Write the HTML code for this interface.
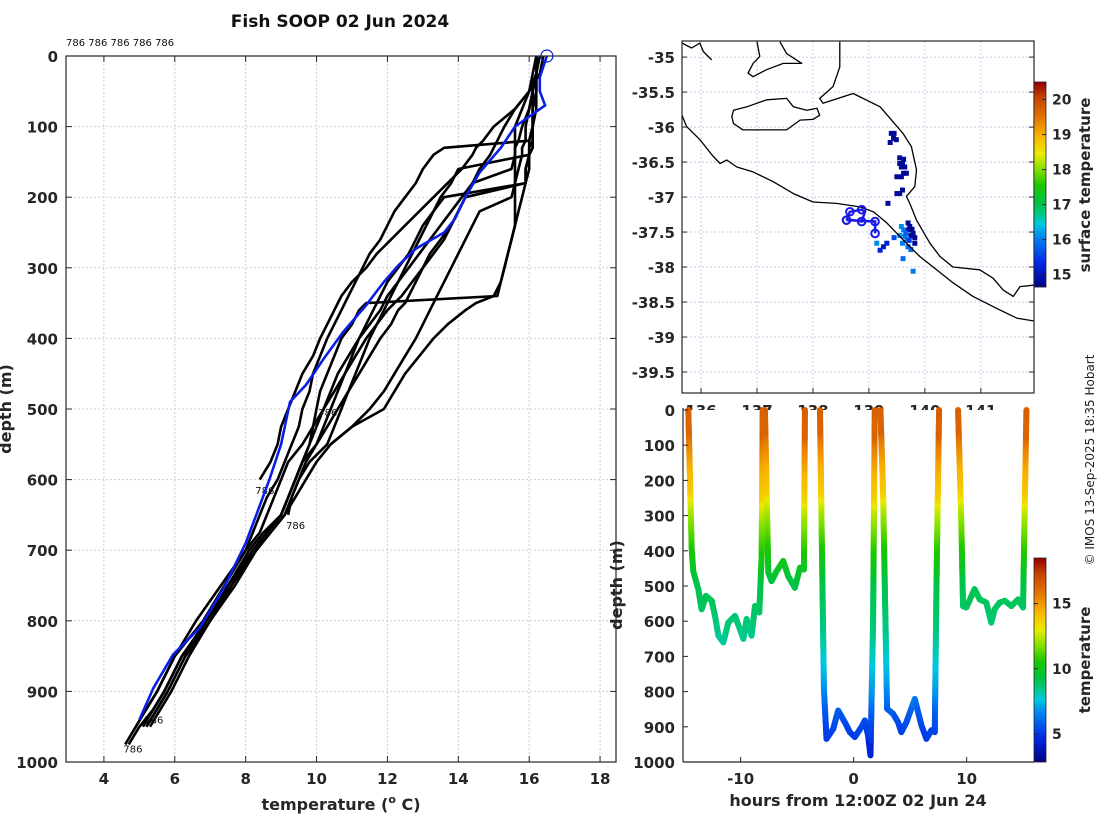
<!DOCTYPE html>
<html><head><meta charset="utf-8">
<style>
html,body{margin:0;padding:0;background:#fff;}
svg{display:block;font-family:"DejaVu Sans","Liberation Sans",sans-serif;}
.tk{font-size:15px;font-weight:bold;fill:#262626;}
.lab{font-size:16px;font-weight:bold;fill:#262626;}
</style></head>
<body>
<svg id="fig" width="1100" height="820" viewBox="0 0 1100 820" xmlns="http://www.w3.org/2000/svg">
<text x="340" y="27" text-anchor="middle" style="font-size:17px;font-weight:bold;fill:#111">Fish SOOP 02 Jun 2024</text>
<text x="66" y="46" style="font-size:10px;fill:#111">786 786 786 786 786</text>
<g id="left"></g>
<g id="map"></g>
<g id="track"></g>
<text transform="translate(1094,460) rotate(-90)" text-anchor="middle" style="font-size:12px;fill:#222">© IMOS 13-Sep-2025 18:35 Hobart</text>
</svg>
<script>
// ---------- LEFT PANEL DATA ----------
const DEPTHS=[0,25,50,75,100,120,130,140,160,180,200,220,240,260,280,300,320,340,350,360,380,400,425,450,475,500,525,550,575,600,625,650,675,700,750,800,850,900,925,950,975];
const P1=[16.2,16.2,16.1,16.1,16.1,16.0,13.6,13.3,13.0,12.8,12.5,12.2,12.0,11.8,11.5,11.3,11.1,10.9,10.8,10.7,10.5,10.3,10.1,9.9,9.8,9.6,9.5,9.3,9.1,8.9,8.6,8.4,8.2,8.0,7.4,6.8,6.0,5.5,5.2,4.9,4.6];
const P2=[16.2,16.1,16.0,15.8,15.6,15.6,15.6,15.6,15.6,15.6,15.6,15.6,15.6,15.5,15.4,15.3,15.2,15.1,11.4,11.2,11.0,10.7,10.5,10.3,10.1,10.0,9.9,9.8,9.6,9.4,9.2,9.0,8.5,8.1,7.5,6.9,6.2,5.7,5.4,5.1,null];
const P3=[16.2,16.2,16.2,16.2,16.1,16.1,16.1,16.0,14.0,13.8,13.5,13.3,13.1,12.9,12.7,12.5,12.3,12.1,12.0,11.9,11.7,11.5,11.3,11.1,10.9,10.7,10.5,10.3,9.8,9.5,9.3,9.2,null,null,null,null,null,null,null,null,null];
const P4=[16.3,16.2,16.2,16.1,16.1,16.1,16.1,16.0,16.0,15.9,13.6,13.3,13.0,12.8,12.6,12.3,12.0,11.8,11.7,11.6,11.4,11.2,11.0,10.8,10.6,10.4,10.2,10.0,9.6,9.4,9.2,9.0,8.6,8.2,7.6,6.9,6.3,5.8,5.5,5.2,null];
const P5=[16.2,16.2,16.1,16.0,15.9,15.9,15.8,15.8,15.7,15.6,15.5,14.6,14.4,14.2,14.0,13.8,13.6,13.4,13.3,13.2,13.0,12.8,12.5,12.2,11.9,11.5,11.0,10.4,10.0,9.7,9.4,9.1,8.7,8.3,7.7,7.0,6.4,5.9,5.6,5.3,null];
const P6=[16.2,16.2,16.0,15.6,15.0,14.7,14.5,14.4,14.1,13.7,13.3,12.9,12.5,12.1,11.7,11.4,11.0,10.7,10.6,10.5,10.3,10.1,9.9,9.6,9.4,9.2,9.0,8.9,8.7,8.4,null,null,null,null,null,null,null,null,null,null,null];
const P7=[16.2,16.2,16.2,16.1,16.1,16.0,16.0,16.0,15.9,15.9,14.2,14.0,13.8,13.5,13.2,13.0,12.8,12.6,12.5,12.3,12.1,11.8,11.5,11.2,10.9,10.6,10.3,10.0,9.7,9.5,9.3,9.1,8.7,8.3,7.6,7.0,6.3,5.8,5.5,5.2,null];
const P8=[16.4,16.3,16.0,15.6,15.3,15.1,15.0,14.9,14.6,14.4,14.1,13.8,13.5,13.2,12.9,12.6,12.3,12.0,11.9,11.8,11.5,11.2,10.9,10.6,10.4,10.2,10.0,9.8,9.6,9.4,9.2,9.0,8.6,8.2,7.5,6.9,6.2,5.7,5.4,5.0,4.7];
const P9=[16.2,16.2,16.1,16.0,15.8,15.7,15.6,15.6,15.5,14.4,14.2,14.0,13.8,13.6,13.3,13.0,12.7,12.4,12.2,12.0,11.7,11.4,11.1,10.8,10.5,10.2,9.9,9.6,9.2,9.0,8.8,8.6,8.4,8.0,7.3,6.6,6.0,5.5,5.2,null,null];
const P10=[16.2,16.2,16.1,16.1,16.1,16.1,16.0,16.0,15.9,15.9,15.8,15.7,15.6,15.5,15.4,15.3,15.2,15.0,14.5,14.2,13.7,13.3,12.9,12.5,12.2,11.9,11.0,10.4,null,null,null,null,null,null,null,null,null,null,null,null,null];
const PROFILES=[P1,P2,P3,P4,P5,P6,P7,P8,P9,P10];
const MEAN_DEPTH=[0,30,50,70,100,130,165,200,231,250,273,297,320,353,391,429,466,490,550,600,650,690,757,810,848,895,940];
const MEAN_TEMP=[16.5,16.3,16.3,16.45,15.6,15.2,14.6,14.2,13.9,13.6,12.8,12.3,11.9,11.4,10.75,10.2,9.7,9.25,9.0,8.67,8.3,8.0,7.35,6.7,5.95,5.4,5.0];
const END_LABEL_T=[10.05,8.27,9.14,5.14,4.55];
const END_LABEL_D=[504,615,664,940,981];
const TEMP_TICKS=[4,6,8,10,12,14,16,18];
const DEPTH_TICKS=[0,100,200,300,400,500,600,700,800,900,1000];

// ---------- MAP DATA ----------
const LAT_TICKS=[-35,-35.5,-36,-36.5,-37,-37.5,-38,-38.5,-39,-39.5];
const LON_TICKS=[136,137,138,139,140,141];
const COAST1_LON=[135.66,135.74,135.98,136.22,136.34,136.46,136.64,136.93,137.29,137.65,138.0,138.42,138.84,139.08,139.32,139.61,139.91,140.21,140.51,140.86,141.28,141.64,141.94];
const COAST1_LAT=[-35.83,-35.99,-36.18,-36.42,-36.52,-36.47,-36.57,-36.64,-36.78,-36.95,-37.07,-37.09,-37.14,-37.21,-37.37,-37.61,-37.85,-38.04,-38.23,-38.42,-38.59,-38.73,-38.77];
const COAST2_LON=[138.48,138.48,138.36,138.12,138.18,138.72,139.2,139.61,139.76,139.85,139.82,139.67,139.73,139.85,140.09,140.27,140.5,140.98,141.22,141.4,141.58,141.7,141.94];
const COAST2_LAT=[-34.78,-35.14,-35.42,-35.59,-35.66,-35.52,-35.71,-36.09,-36.28,-36.61,-36.85,-36.99,-37.09,-37.33,-37.66,-37.85,-38.0,-38.04,-38.16,-38.33,-38.42,-38.28,-38.26];
const KI_LON=[136.58,136.82,137.17,137.53,137.65,137.89,138.07,138.12,138.0,137.77,137.53,137.17,136.75,136.58,136.55,136.58];
const KI_LAT=[-35.76,-35.71,-35.61,-35.59,-35.71,-35.76,-35.73,-35.83,-35.89,-35.9,-36.04,-36.04,-36.04,-35.95,-35.85,-35.76];
const YP_LON=[137.0,137.05,136.93,136.84,136.93,137.17,137.47,137.8,137.53,137.41];
const YP_LAT=[-34.78,-34.99,-35.09,-35.23,-35.28,-35.18,-35.09,-35.09,-34.95,-34.78];
const TL_LON=[135.66,135.83,135.98,136.04,136.19];
const TL_LAT=[-34.8,-34.87,-34.8,-34.92,-35.04];
const SST_LON=[139.40,139.45,139.49,139.44,139.38,139.55,139.60,139.64,139.58,139.62,139.55,139.67,139.62,139.58,139.50,139.55,139.60,139.50,139.34,139.73,139.77,139.70,139.79,139.82,139.75,139.82,139.70,139.58,139.62,139.64,139.68,139.70,139.60,139.75,139.61,139.79,139.14,139.55,139.32,139.26,139.45,139.20,139.66,139.72];
const SST_LAT=[-36.09,-36.09,-36.18,-36.16,-36.22,-36.52,-36.52,-36.57,-36.57,-36.46,-36.44,-36.66,-36.66,-36.71,-36.71,-36.95,-36.90,-36.95,-37.09,-37.42,-37.46,-37.47,-37.52,-37.58,-37.55,-37.66,-37.37,-37.42,-37.47,-37.56,-37.60,-37.71,-37.66,-37.75,-37.88,-38.06,-37.66,-37.55,-37.66,-37.71,-37.58,-37.76,-37.52,-37.62];
const SST_VAL=[14.8,14.8,14.8,14.8,14.8,14.8,14.8,14.8,14.8,14.8,14.8,14.8,14.8,14.8,14.8,14.8,14.8,14.8,14.8,14.8,14.8,14.8,14.8,14.8,14.8,14.8,14.8,16.1,16.0,16.0,15.9,15.8,16.0,15.9,15.9,16.0,16.1,16.2,15.2,15.1,15.6,15.3,15.8,15.5];
const SHIP_LON=[138.60,138.66,138.87,138.93,138.87,138.72,138.60,139.11,139.11];
const SHIP_LAT=[-37.33,-37.21,-37.18,-37.21,-37.35,-37.33,-37.33,-37.35,-37.52];
const SST_TICKS=[15,16,17,18,19,20];

// ---------- DEPTH-TIME DATA ----------
const TRACK_HOURS=[-14.63,-14.33,-14.19,-13.74,-13.45,-13.07,-12.56,-12.27,-11.97,-11.53,-11.09,-10.5,-10.06,-9.76,-9.47,-9.03,-8.73,-8.35,-8.14,-8.05,null,-7.85,-7.55,-7.26,-6.82,-6.23,-5.79,-5.2,-4.75,-4.4,-4.31,null,-2.98,-2.63,-2.4,-1.81,-1.37,-0.78,-0.34,0.1,0.69,0.99,1.28,1.49,1.72,1.87,null,2.37,2.6,2.96,3.49,3.93,4.22,4.67,5.41,6.0,6.44,6.88,7.18,7.33,7.56,null,9.24,9.53,9.68,9.97,10.7,11.15,11.74,12.18,12.48,12.92,13.37,13.96,14.55,14.99,15.29];
const TRACK_DEPTH=[0,396,458,510,566,528,542,585,641,660,604,585,623,650,594,641,557,575,415,0,null,0,462,486,458,429,472,505,448,453,0,null,0,792,934,906,854,887,915,929,901,882,925,981,604,0,null,0,226,849,863,887,915,887,821,896,934,910,915,500,0,null,0,321,557,561,509,538,547,604,566,547,542,557,538,561,0];
const HOUR_TICKS=[-10,0,10];
const TEMP_CB_TICKS=[5,10,15];

const NS="http://www.w3.org/2000/svg";
function mk(parent,tag,attrs,text){const e=document.createElementNS(NS,tag);for(const k in attrs)e.setAttribute(k,attrs[k]);if(text!==undefined)e.textContent=text;parent.appendChild(e);return e;}

// jet-like colormap
const CSTOPS=[[0,[0,0,128]],[0.12,[0,40,230]],[0.24,[0,130,240]],[0.31,[0,200,225]],[0.36,[0,200,130]],[0.42,[0,195,60]],[0.50,[30,200,0]],[0.58,[140,225,0]],[0.65,[235,235,0]],[0.74,[250,180,0]],[0.84,[225,110,0]],[0.93,[195,65,0]],[1,[150,0,0]]];
function cmap(f){f=Math.max(0,Math.min(1,f));for(let i=1;i<CSTOPS.length;i++){if(f<=CSTOPS[i][0]){const a=CSTOPS[i-1],b=CSTOPS[i],t=(f-a[0])/(b[0]-a[0]);const c=a[1].map((v,j)=>Math.round(v+(b[1][j]-v)*t));return `rgb(${c[0]},${c[1]},${c[2]})`;}}return 'rgb(150,0,0)';}

// ===== LEFT PANEL =====
(function(){
const g=document.getElementById('left');
const X0=66,X1=616,Y0=56,Y1=762,TMIN=2.93,TMAX=18.45,DMAX=1000;
const xs=t=>X0+(t-TMIN)/(TMAX-TMIN)*(X1-X0);
const ys=d=>Y0+d/DMAX*(Y1-Y0);
TEMP_TICKS.forEach(t=>{const x=xs(t);
 const l=mk(g,'line',{x1:x,y1:Y0,x2:x,y2:Y1,stroke:'#c6cce6','stroke-width':1,'stroke-dasharray':'2,2'});
 
 
 mk(g,'line',{x1:x,y1:Y1,x2:x,y2:Y1-6,stroke:'#262626'});
 mk(g,'line',{x1:x,y1:Y0,x2:x,y2:Y0+6,stroke:'#262626'});
 const tx=mk(g,'text',{x:x,y:784,'text-anchor':'middle',class:'tk'},String(t));
 
 
});
DEPTH_TICKS.forEach(d=>{const y=ys(d);
 const l=mk(g,'line',{x1:X0,y1:y,x2:X1,y2:y,stroke:'#d8cfc6','stroke-width':1,'stroke-dasharray':'2,2'});
 
 
 mk(g,'line',{x1:X0,y1:y,x2:X0+6,y2:y,stroke:'#262626'});
 mk(g,'line',{x1:X1,y1:y,x2:X1-6,y2:y,stroke:'#262626'});
 const tx=mk(g,'text',{x:58,y:y+6,'text-anchor':'end',class:'tk'},String(d));
 
 
});
PROFILES.forEach((p,i)=>{let dstr='';let pen=false;
 p.forEach((t,j)=>{if(t===null){pen=false;return;}dstr+=(pen?'L':'M')+xs(t).toFixed(1)+','+ys(DEPTHS[j]).toFixed(1)+' ';pen=true;});
 const pa=mk(g,'path',{d:dstr,fill:'none',stroke:'#000','stroke-width':2.6,'stroke-linejoin':'round'});
 
 
});
END_LABEL_T.forEach((t,i)=>{const tx=mk(g,'text',{x:xs(t),y:ys(END_LABEL_D[i])+4,style:'font-size:10px;fill:#111'},'786');
 
 });
let md='';MEAN_TEMP.forEach((t,j)=>{md+=(j?'L':'M')+xs(t).toFixed(1)+','+ys(MEAN_DEPTH[j]).toFixed(1)+' ';});
const mp=mk(g,'path',{d:md,fill:'none',stroke:'#0a1ee6','stroke-width':2.6});


const mc=mk(g,'circle',{cx:xs(MEAN_TEMP[0]),cy:ys(MEAN_DEPTH[0]),r:6,fill:'none',stroke:'#0a1ee6','stroke-width':1.2});


const box=mk(g,'rect',{x:X0,y:Y0,width:X1-X0,height:Y1-Y0,fill:'none',stroke:'#262626','stroke-width':1.2});


const xl=mk(g,'text',{x:341,y:810,'text-anchor':'middle',class:'lab'});


xl.innerHTML='temperature (<tspan dy="-7" style="font-size:11px">o</tspan><tspan dy="7"> C)</tspan>';
const yl=mk(g,'text',{transform:'translate(11,409) rotate(-90)','text-anchor':'middle',class:'lab'},'depth (m)');


})();

// ===== MAP PANEL =====
(function(){
const g=document.getElementById('map');
const X0=682,X1=1034,Y0=41,Y1=393,LON0=135.66,LON1=141.95,LATT=-34.77,LATB=-39.80;
const xs=l=>X0+(l-LON0)/(LON1-LON0)*(X1-X0);
const ys=l=>Y0+(LATT-l)/(LATT-LATB)*(Y1-Y0);
mk(g,'rect',{x:X0,y:Y0,width:X1-X0,height:Y1-Y0,fill:'#fff'});
LAT_TICKS.forEach(l=>{const y=ys(l);
 const gl=mk(g,'line',{x1:X0,y1:y,x2:X1,y2:y,stroke:'#c6cce6','stroke-dasharray':'2,2'});
 
 
 mk(g,'line',{x1:X0,y1:y,x2:X0+5,y2:y,stroke:'#262626'});
 mk(g,'line',{x1:X1,y1:y,x2:X1-5,y2:y,stroke:'#262626'});
 const tx=mk(g,'text',{x:675,y:y+6,'text-anchor':'end',class:'tk'},String(l));
 
 
});
LON_TICKS.forEach(l=>{const x=xs(l);
 const gl=mk(g,'line',{x1:x,y1:Y0,x2:x,y2:Y1,stroke:'#c6cce6','stroke-dasharray':'2,2'});
 
 
 mk(g,'line',{x1:x,y1:Y1,x2:x,y2:Y1-5,stroke:'#262626'});
 const tx=mk(g,'text',{x:x,y:416,'text-anchor':'middle',class:'tk'},String(l));
 
 
});
SST_LON.forEach((lo,i)=>{const f=(SST_VAL[i]-14.65)/(20.5-14.65);
 const r=mk(g,'rect',{x:xs(lo)-2.5,y:ys(SST_LAT[i])-2.5,width:5,height:5,fill:cmap(f)});
 
 
});
function poly(lon,lat,name,closed){let d='';lon.forEach((l,i)=>{d+=(i?'L':'M')+xs(l).toFixed(1)+','+ys(lat[i]).toFixed(1)+' ';});if(closed)d+='Z';
 const p=mk(g,'path',{d:d,fill:'none',stroke:'#000','stroke-width':1.3,'stroke-linejoin':'round'});
 
 
 return p;}
poly(COAST1_LON,COAST1_LAT,'coastline-south',false);
poly(COAST2_LON,COAST2_LAT,'coastline-east',false);
poly(KI_LON,KI_LAT,'kangaroo-island',true);
poly(YP_LON,YP_LAT,'peninsula-coast',false);
poly(TL_LON,TL_LAT,'coast-fragment',false);
let sd='';SHIP_LON.forEach((l,i)=>{sd+=(i?'L':'M')+xs(l).toFixed(1)+','+ys(SHIP_LAT[i]).toFixed(1)+' ';});
const sp=mk(g,'path',{d:sd,fill:'none',stroke:'#1a1ae6','stroke-width':2.5});


SHIP_LON.forEach((l,i)=>{if(i===3||i===5)return;const c=mk(g,'circle',{cx:xs(l),cy:ys(SHIP_LAT[i]),r:3.8,fill:'none',stroke:'#1a1ae6','stroke-width':2});
 
 });
const box=mk(g,'rect',{x:X0,y:Y0,width:X1-X0,height:Y1-Y0,fill:'none',stroke:'#262626','stroke-width':1.2});


const CB0=82,CB1=287,VMAX=20.5,VMIN=14.65;
for(let y=CB0;y<CB1;y++){const f=1-(y-CB0)/(CB1-CB0);mk(g,'rect',{x:1034,y:y,width:12,height:1.2,fill:cmap(f)});}
const cbb=mk(g,'rect',{x:1034,y:CB0,width:12,height:CB1-CB0,fill:'none',stroke:'#262626','stroke-width':0.8});


SST_TICKS.forEach(v=>{const y=CB1-(v-VMIN)/(VMAX-VMIN)*(CB1-CB0);
 mk(g,'line',{x1:1046,y1:y,x2:1042,y2:y,stroke:'#262626'});
 const tx=mk(g,'text',{x:1052,y:y+5,class:'tk',style:'font-size:14px'},String(v));
 
 });
const t=mk(g,'text',{transform:'translate(1090,185) rotate(-90)','text-anchor':'middle',class:'lab',style:'font-size:15px'},'surface temperature');


})();

// ===== DEPTH-TIME PANEL =====
(function(){
const g=document.getElementById('track');
const X0=683,X1=1034,Y0=410,Y1=762,HMIN=-15.1,HMAX=15.96;
const xs=h=>X0+(h-HMIN)/(HMAX-HMIN)*(X1-X0);
const ys=d=>Y0+d/1000*(Y1-Y0);
const bg=mk(g,'rect',{x:X0,y:410,width:X1-X0,height:Y1-410,fill:'#fff'});


function tempAt(d){if(d<=MEAN_DEPTH[0])return MEAN_TEMP[0];for(let i=1;i<MEAN_DEPTH.length;i++){if(d<=MEAN_DEPTH[i]){const t=(d-MEAN_DEPTH[i-1])/(MEAN_DEPTH[i]-MEAN_DEPTH[i-1]);return MEAN_TEMP[i-1]+t*(MEAN_TEMP[i]-MEAN_TEMP[i-1]);}}return MEAN_TEMP[MEAN_TEMP.length-1]-0.5;}
const VMIN=2.85,VMAX=18.5;
for(let i=1;i<TRACK_HOURS.length;i++){
 const h0=TRACK_HOURS[i-1],h1=TRACK_HOURS[i];if(h0===null||h1===null)continue;
 const d0=TRACK_DEPTH[i-1],d1=TRACK_DEPTH[i];
 const n=Math.max(1,Math.ceil(Math.abs(ys(d1)-ys(d0))/3));
 for(let k=0;k<n;k++){const a=k/n,b=(k+1)/n;const da=d0+(d1-d0)*a,db=d0+(d1-d0)*b;
  const tm=tempAt((da+db)/2);
  const ln=mk(g,'line',{x1:xs(h0+(h1-h0)*a),y1:ys(da),x2:xs(h0+(h1-h0)*b),y2:ys(db),stroke:cmap((tm-VMIN)/(VMAX-VMIN)),'stroke-width':6,'stroke-linecap':'round'});
  
  
 }
}
mk(g,'line',{x1:X0,y1:Y0-2,x2:X0,y2:Y1,stroke:'#262626','stroke-width':1.2});
mk(g,'line',{x1:X0,y1:Y1,x2:X1,y2:Y1,stroke:'#262626','stroke-width':1.2});
DEPTH_TICKS.forEach(d=>{const y=ys(d);
 mk(g,'line',{x1:X0,y1:y,x2:X0+5,y2:y,stroke:'#262626'});
 const tx=mk(g,'text',{x:675,y:y+6,'text-anchor':'end',class:'tk'},String(d));
 
 });
HOUR_TICKS.forEach(h=>{const x=xs(h);
 mk(g,'line',{x1:x,y1:Y1,x2:x,y2:Y1-5,stroke:'#262626'});
 const tx=mk(g,'text',{x:x,y:784,'text-anchor':'middle',class:'tk'},String(h));
 
 });
const xl=mk(g,'text',{x:858,y:806,'text-anchor':'middle',class:'lab'},'hours from 12:00Z 02 Jun 24');


const yl=mk(g,'text',{transform:'translate(622,585) rotate(-90)','text-anchor':'middle',class:'lab'},'depth (m)');


const CB0=558,CB1=762;
for(let y=CB0;y<CB1;y++){const f=1-(y-CB0)/(CB1-CB0);mk(g,'rect',{x:1034,y:y,width:12,height:1.2,fill:cmap(f)});}
const cbb=mk(g,'rect',{x:1034,y:CB0,width:12,height:CB1-CB0,fill:'none',stroke:'#262626','stroke-width':0.8});


TEMP_CB_TICKS.forEach(v=>{const y=CB1-(v-VMIN)/(VMAX-VMIN)*(CB1-CB0);
 mk(g,'line',{x1:1034,y1:y,x2:1038,y2:y,stroke:'#262626'});
 const tx=mk(g,'text',{x:1052,y:y+5,class:'tk',style:'font-size:14px'},String(v));
 
 });
const t=mk(g,'text',{transform:'translate(1090,660) rotate(-90)','text-anchor':'middle',class:'lab',style:'font-size:15px'},'temperature');


})();
</script>
</body></html>
